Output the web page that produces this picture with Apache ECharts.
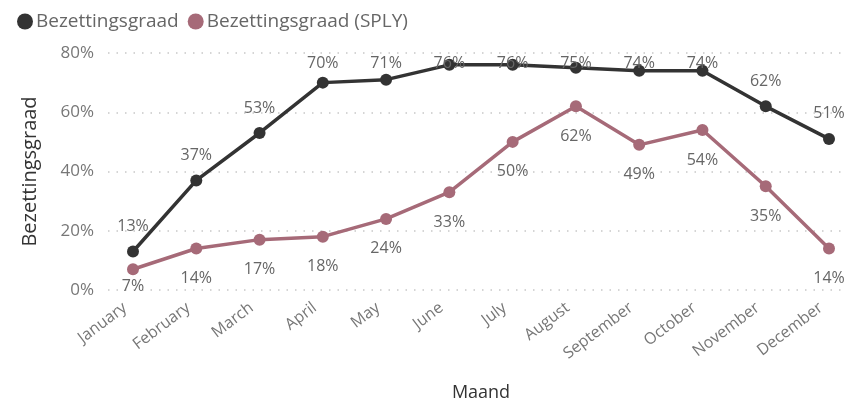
<!DOCTYPE html>
<html>
<head>
<meta charset="utf-8">
<script src="https://cdn.jsdelivr.net/npm/echarts@6/dist/echarts.min.js"></script>
<style>
    html, body { margin: 0; padding: 0; background: #fff; }
    #chart { width: 844px; height: 404px; }
</style>
</head>
<body>
<div id="chart"></div>
<script>
// data
var months = ['January', 'February', 'March', 'April', 'May', 'June', 'July', 'August', 'September', 'October', 'November', 'December'];
var bezetting = [13, 37, 53, 70, 71, 76, 76, 75, 74, 74, 62, 51];
var bezettingSply = [7, 14, 17, 18, 24, 33, 50, 62, 49, 54, 35, 14];
var seriesNames = ['Bezettingsgraad', 'Bezettingsgraad (SPLY)'];

var FONT = 'Open Sans';

function lineChart(divId) {
    var dom = document.getElementById(divId);
    var myChart = echarts.init(dom, null, { renderer: 'canvas' });

    var option = {
        animation: false,
        textStyle: { fontFamily: FONT },
        legend: {
            data: seriesNames,
            left: 12,
            top: 7,
            icon: 'circle',
            itemWidth: 16,
            itemHeight: 16,
            itemGap: 9,
            textStyle: { color: '#666', fontSize: 19, fontFamily: FONT, padding: [0, 0, 0, -2] }
        },
        // grid 0 only carries the y labels and dotted gridlines, grid 1 carries the data
        grid: [
            { left: 108, right: 0, top: 53, bottom: 114, outerBoundsMode: 'none' },
            { left: 133, right: 15, top: 53, bottom: 114, outerBoundsMode: 'none' }
        ],
        xAxis: [
            { gridIndex: 0, type: 'value', show: false, min: 0, max: 1 },
            {
                gridIndex: 1,
                type: 'category',
                boundaryGap: false,
                data: months,
                name: 'Maand',
                nameLocation: 'middle',
                nameGap: 94,
                nameTextStyle: { color: '#333', fontSize: 18, fontFamily: FONT },
                axisLine: { show: false },
                axisTick: { show: false },
                axisLabel: { rotate: 37, color: '#777', fontSize: 16, margin: 10, padding: [0, 10, 0, 0], fontFamily: FONT }
            }
        ],
        yAxis: [
            {
                gridIndex: 0,
                type: 'value',
                min: 0,
                max: 80,
                interval: 20,
                name: 'Bezettingsgraad',
                nameLocation: 'middle',
                nameGap: 68,
                nameTextStyle: { color: '#333', fontSize: 20, fontFamily: FONT },
                axisLine: { show: false },
                axisTick: { show: false },
                axisLabel: { formatter: '{value}%', color: '#777', fontSize: 17, margin: 14, fontFamily: FONT },
                splitLine: { lineStyle: { color: '#c8c8c8', width: 1.5, type: [1.5, 7] } }
            },
            {
                gridIndex: 1,
                type: 'value',
                min: 0,
                max: 80,
                interval: 20,
                show: false,
                splitLine: { show: false }
            }
        ],
        series: [
            {
                name: seriesNames[0],
                type: 'line',
                xAxisIndex: 1,
                yAxisIndex: 1,
                data: bezetting,
                symbol: 'circle',
                symbolSize: 12,
                color: '#333333',
                lineStyle: { width: 3.5, color: '#333333' },
                label: {
                    show: true,
                    position: 'top',
                    distance: 11,
                    formatter: '{c}%',
                    color: '#666',
                    fontSize: 16,
                    fontFamily: FONT
                },
                // keep labels inside the plot, like the original
                labelLayout: function (params) {
                    var r = params.labelRect;
                    var cy = r.y + r.height / 2;
                    return { dy: Math.max(0, 63 - cy) };
                },
                z: 3
            },
            {
                name: seriesNames[1],
                type: 'line',
                xAxisIndex: 1,
                yAxisIndex: 1,
                data: bezettingSply,
                symbol: 'circle',
                symbolSize: 12,
                color: '#A66A78',
                lineStyle: { width: 3.5, color: '#A66A78' },
                label: {
                    show: true,
                    position: 'bottom',
                    distance: 16,
                    formatter: '{c}%',
                    color: '#666',
                    fontSize: 16,
                    fontFamily: FONT
                },
                labelLayout: function (params) {
                    var r = params.labelRect;
                    var cy = r.y + r.height / 2;
                    return { dy: Math.min(0, 286 - cy) };
                },
                z: 2
            }
        ]
    };

    myChart.setOption(option);
    window.addEventListener('resize', myChart.resize);
}

lineChart('chart');
</script>
</body>
</html>
